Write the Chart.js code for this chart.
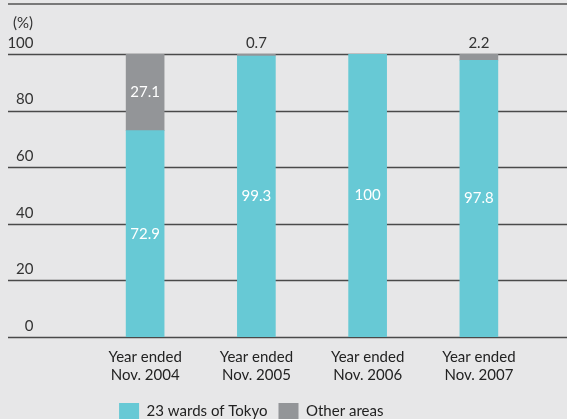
<!DOCTYPE html>
<html lang="en">
<head>
    <meta charset="UTF-8">
    <title>Tokyo share</title>
    <script src="https://cdn.jsdelivr.net/npm/chart.js"></script>
    <style>
        html, body { margin: 0; padding: 0; background: #E7E7E8; }
        #wrap { width: 567px; height: 419px; }
    </style>
</head>
<body>
    <div id="wrap"><canvas id="shareChart" width="567" height="419"></canvas></div>

    <script>
        // chart data
        var years = [['Year ended', 'Nov. 2004'], ['Year ended', 'Nov. 2005'], ['Year ended', 'Nov. 2006'], ['Year ended', 'Nov. 2007']];
        var tokyoWards = [72.9, 99.3, 100, 97.8];
        var otherAreas = [27.1, 0.7, 0, 2.2];
        var yTicks = [0, 20, 40, 60, 80, 100];

        var FONT = 'Lato, "Open Sans", sans-serif';

        // background, top rule, unit and full-width gridlines
        var framePlugin = {
            id: 'frame',
            afterLayout: function (chart) {
                // legend sits a little left of centre in the original
                chart.legend.left -= 20;
                chart.legend.right -= 20;
            },
            beforeDraw: function (chart) {
                var ctx = chart.ctx;
                var y = chart.scales.y;
                ctx.save();
                ctx.fillStyle = '#E7E7E8';
                ctx.fillRect(0, 0, chart.width, chart.height);
                ctx.strokeStyle = '#555';
                ctx.lineWidth = 1.5;
                ctx.beginPath();
                ctx.moveTo(8, 4);
                ctx.lineTo(chart.width, 4);
                ctx.stroke();
                ctx.strokeStyle = '#4a4a4a';
                yTicks.forEach(function (v) {
                    var py = Math.round(y.getPixelForValue(v)) + 0.5;
                    ctx.beginPath();
                    ctx.moveTo(8, py);
                    ctx.lineTo(chart.width, py);
                    ctx.stroke();
                });
                ctx.fillStyle = '#333';
                ctx.font = '15px ' + FONT;
                ctx.textBaseline = 'middle';
                ctx.fillText('(%)', 13, 23);
                ctx.restore();
            }
        };

        // value labels on the bars
        var valuePlugin = {
            id: 'values',
            afterDatasetsDraw: function (chart) {
                var ctx = chart.ctx;
                ctx.save();
                ctx.font = '15px ' + FONT;
                ctx.textAlign = 'center';
                ctx.textBaseline = 'middle';
                chart.data.datasets.forEach(function (ds, di) {
                    var meta = chart.getDatasetMeta(di);
                    meta.data.forEach(function (bar, i) {
                        var v = ds.data[i];
                        if (!v) return;
                        if (v < 5) {
                            ctx.fillStyle = '#333';
                            ctx.fillText(v.toFixed(1), bar.x, bar.y - 11);
                        } else {
                            ctx.fillStyle = '#ffffff';
                            ctx.fillText(v % 1 === 0 ? String(v) : v.toFixed(1), bar.x, (bar.y + bar.base) / 2);
                        }
                    });
                });
                ctx.restore();
            }
        };

        var ctx = document.getElementById('shareChart').getContext('2d');
        var shareChart = new Chart(ctx, {
            type: 'bar',
            data: {
                labels: years,
                datasets: [
                    {
                        label: '23 wards of Tokyo',
                        data: tokyoWards,
                        backgroundColor: '#67C9D5',
                        barThickness: 38
                    },
                    {
                        label: 'Other areas',
                        data: otherAreas,
                        backgroundColor: '#939598',
                        barThickness: 38
                    }
                ]
            },
            options: {
                responsive: false,
                animation: false,
                layout: {
                    padding: { left: 8, right: 32.5, top: 54, bottom: -10 }
                },
                scales: {
                    x: {
                        stacked: true,
                        grid: { display: false },
                        border: { display: false },
                        ticks: {
                            color: '#222',
                            padding: 3,
                            font: { family: FONT, size: 15, lineHeight: 1.2 }
                        },
                        afterFit: function (scale) {
                            scale.height = 55;
                            scale.paddingLeft = 0;
                            scale.paddingRight = 0;
                        }
                    },
                    y: {
                        stacked: true,
                        min: 0,
                        max: 100,
                        grid: { display: false, drawTicks: false },
                        border: { display: false },
                        ticks: {
                            stepSize: 20,
                            color: '#333',
                            padding: 56,
                            labelOffset: -11,
                            font: { family: FONT, size: 15 }
                        },
                        afterFit: function (scale) {
                            scale.width = 81.5;
                            scale.paddingTop = 0;
                            scale.paddingBottom = 0;
                        }
                    }
                },
                plugins: {
                    legend: {
                        position: 'bottom',
                        labels: {
                            boxWidth: 20,
                            boxHeight: 16,
                            padding: 11,
                            color: '#222',
                            font: { family: FONT, size: 15 }
                        }
                    },
                    tooltip: { enabled: false }
                }
            },
            plugins: [framePlugin, valuePlugin]
        });
    </script>
</body>
</html>
